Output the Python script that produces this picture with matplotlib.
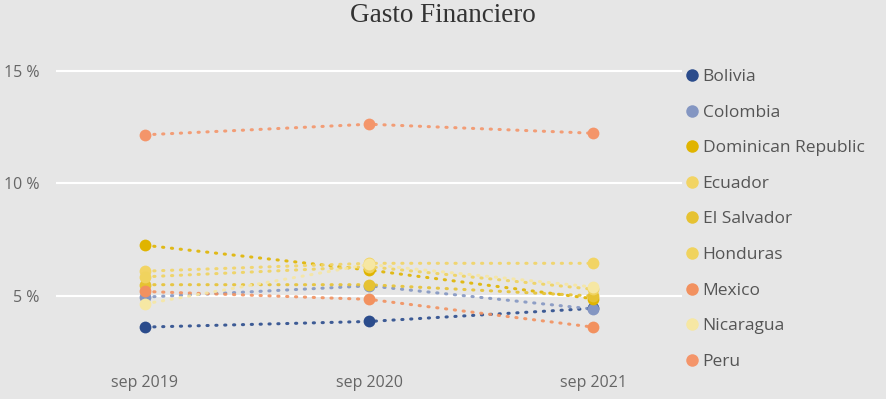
import matplotlib
matplotlib.use("Agg")
import matplotlib.pyplot as plt
from matplotlib.lines import Line2D

# data (percent)
periods = ["sep 2019", "sep 2020", "sep 2021"]
countries = ["Bolivia", "Colombia", "Dominican Republic", "Ecuador", "El Salvador",
             "Honduras", "Mexico", "Nicaragua", "Peru"]
bolivia = [3.62, 3.87, 4.45]
colombia = [4.95, 5.45, 4.42]
dominican = [7.25, 6.15, 4.88]
ecuador = [6.10, 6.45, 6.45]
el_salvador = [5.50, 5.50, 5.00]
honduras = [5.85, 6.30, 5.30]
mexico = [5.20, 4.85, 3.62]
nicaragua = [4.65, 6.40, 5.40]
peru = [12.15, 12.62, 12.22]
series = [bolivia, colombia, dominican, ecuador, el_salvador, honduras, mexico, nicaragua, peru]

colors = ["#2b4c8c", "#8496c2", "#e0b400", "#f2d464", "#e6c232",
          "#f0d35e", "#f2915f", "#f6e7a3", "#f4956a"]

bg = "#e6e6e6"
txt = "#666666"

fig = plt.figure(figsize=(8.86, 3.99), dpi=100, facecolor=bg)
ax = fig.add_axes([56 / 886, 39 / 399, 626 / 886, 330 / 399], facecolor=bg)

x = list(range(len(periods)))
for name, vals, c in zip(countries, series, colors):
    ax.plot(x, vals, color=c, lw=2.2, linestyle=(0, (0.4, 2.5)),
            dash_capstyle="round", alpha=0.9, zorder=2)
    ax.plot(x, vals, "o", color=c, ms=8.5, mec="none", zorder=3)

ax.set_xlim(-0.397, 2.397)
ax.set_ylim(2.16, 16.8)
ax.set_xticks(x)
ax.set_xticklabels(periods)
ax.set_yticks([5, 10, 15])
ax.set_yticklabels(["5 %", "10 %", "15 %"])
ax.tick_params(length=0, labelsize=11.5, labelcolor=txt, pad=12)
ax.tick_params(axis="x", pad=11)
for lab in ax.get_xticklabels() + ax.get_yticklabels():
    lab.set_fontfamily("Open Sans")
ax.grid(axis="y", color="white", lw=1.5)
ax.set_axisbelow(True)
for s in ax.spines.values():
    s.set_visible(False)

handles = [Line2D([], [], ls="none", marker="o", ms=9, color=c, mec="none") for c in colors]
leg = fig.legend(handles, countries, loc="upper left", bbox_to_anchor=(680 / 886, 1 - 62 / 399),
                 frameon=False, handlelength=0.6, handletextpad=0.3,
                 labelspacing=1.12, borderaxespad=0,
                 prop={"family": "Open Sans", "size": 12.5})
for t in leg.get_texts():
    t.set_color("#555555")

fig.text(0.5, 1 - 15 / 399, "Gasto Financiero", ha="center", va="center",
         family="Liberation Serif", fontsize=19.5, color="#333333")

fig.savefig("out.png", dpi=100, facecolor=bg)
